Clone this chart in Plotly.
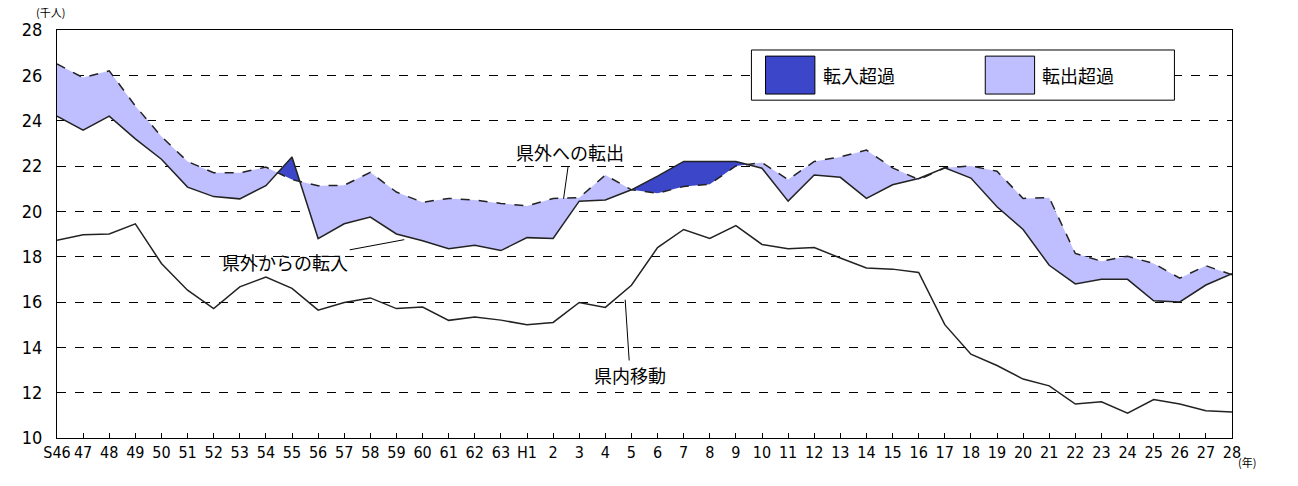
import numpy as np
import plotly.graph_objects as go

labels = ["S46","47","48","49","50","51","52","53","54","55","56","57","58","59","60","61","62","63",
          "H1","2","3","4","5","6","7","8","9","10","11","12","13","14","15","16","17","18","19","20",
          "21","22","23","24","25","26","27","28"]
outflow = [26.5,25.9,26.2,24.65,23.3,22.2,21.7,21.7,21.95,21.4,21.13,21.15,21.72,20.85,20.4,
           20.57,20.5,20.35,20.24,20.57,20.6,21.6,20.95,20.8,21.1,21.2,22.0,22.15,21.4,22.2,22.4,
           22.7,21.92,21.4,21.92,22.0,21.77,20.57,20.6,18.14,17.8,18.02,17.7,17.05,17.6,17.2]
inflow = [24.2,23.58,24.2,23.2,22.3,21.07,20.65,20.55,21.13,22.4,18.8,19.45,19.75,19.0,18.7,
          18.35,18.5,18.27,18.84,18.8,20.45,20.5,20.95,21.55,22.2,22.2,22.2,21.9,20.45,21.6,21.5,
          20.57,21.17,21.45,21.92,21.47,20.2,19.2,17.62,16.8,17.0,17.0,16.05,16.0,16.75,17.25]
intra = [18.72,18.97,19.0,19.45,17.7,16.52,15.71,16.67,17.1,16.6,15.64,15.98,16.18,15.71,15.78,
         15.19,15.34,15.2,15.0,15.1,15.98,15.76,16.74,18.4,19.2,18.8,19.37,18.54,18.35,18.4,17.94,
         17.5,17.45,17.3,15.0,13.7,13.2,12.6,12.3,11.5,11.6,11.1,11.7,11.5,11.2,11.15]

o = np.array(outflow); n = np.array(inflow); x = np.arange(len(o), dtype=float)
xs, os_, ns_ = [], [], []
for i in range(len(x)):
    xs.append(x[i]); os_.append(o[i]); ns_.append(n[i])
    if i < len(x) - 1:
        d0 = o[i] - n[i]; d1 = o[i+1] - n[i+1]
        if d0 * d1 < 0:
            t = d0 / (d0 - d1)
            xs.append(x[i] + t); v = o[i] + t * (o[i+1] - o[i])
            os_.append(v); ns_.append(v)
xs = np.array(xs); os_ = np.array(os_); ns_ = np.array(ns_)
low = np.minimum(os_, ns_)

LIGHT = "#BFBFFF"; DARK = "#3C46C8"
fig = go.Figure()
fig.add_trace(go.Scatter(x=xs, y=low, mode="lines", line=dict(width=0), hoverinfo="skip", showlegend=False))
fig.add_trace(go.Scatter(x=xs, y=os_, mode="lines", line=dict(width=0), fill="tonexty", fillcolor=LIGHT, showlegend=False))
fig.add_trace(go.Scatter(x=xs, y=low, mode="lines", line=dict(width=0), hoverinfo="skip", showlegend=False))
fig.add_trace(go.Scatter(x=xs, y=ns_, mode="lines", line=dict(width=0), fill="tonexty", fillcolor=DARK, showlegend=False))
fig.add_trace(go.Scatter(x=x, y=outflow, mode="lines", line=dict(color="#222", width=1.5, dash="dash"), showlegend=False))
fig.add_trace(go.Scatter(x=x, y=inflow, mode="lines", line=dict(color="#222", width=1.5), showlegend=False))
fig.add_trace(go.Scatter(x=x, y=intra, mode="lines", line=dict(color="#222", width=1.5), showlegend=False))

F = "Noto Sans CJK JP"
fig.update_layout(
    width=1290, height=478, paper_bgcolor="white", plot_bgcolor="white",
    margin=dict(l=49, r=66, t=22, b=48),
    font=dict(family=F, color="black", size=15),
    xaxis=dict(range=[0, 45], tickmode="array", tickvals=list(x), ticktext=labels,
               ticks="inside", ticklen=5, tickcolor="black", showgrid=False, zeroline=False,
               showline=True, linecolor="black", linewidth=1, mirror=True,
               tickfont=dict(size=16, family="DejaVu Sans Condensed, Liberation Sans Narrow, sans-serif"), tickangle=0),
    yaxis=dict(range=[10, 28], dtick=2, showgrid=True, gridcolor="black", griddash="dash", gridwidth=1,
               zeroline=False, showline=True, linecolor="black", linewidth=1, mirror=True,
               ticks="outside", ticklen=10, tickcolor="white",
               tickfont=dict(size=18, family="DejaVu Sans Condensed, sans-serif")),
)
fig.add_shape(type="rect", xref="paper", yref="paper", x0=0.591, x1=0.951, y0=0.828, y1=0.951,
              line=dict(color="black", width=1), fillcolor="white")
fig.add_shape(type="rect", xref="paper", yref="paper", x0=0.603, x1=0.645, y0=0.843, y1=0.936,
              line=dict(color="black", width=1), fillcolor=DARK)
fig.add_shape(type="rect", xref="paper", yref="paper", x0=0.79, x1=0.832, y0=0.843, y1=0.936,
              line=dict(color="black", width=1), fillcolor=LIGHT)
fig.add_annotation(xref="paper", yref="paper", x=0.65, y=0.89, yanchor="middle", text="転入超過", showarrow=False, xanchor="left", font=dict(size=18))
fig.add_annotation(xref="paper", yref="paper", x=0.837, y=0.89, yanchor="middle", text="転出超過", showarrow=False, xanchor="left", font=dict(size=18))
fig.add_annotation(x=19.4, y=20.55, ax=19.65, ay=22.6, axref="x", ayref="y", text="県外への転出",
                   showarrow=True, arrowhead=0, arrowwidth=1, arrowcolor="black", font=dict(size=18))
fig.add_annotation(x=13.3, y=18.75, ax=8.74, ay=17.77, axref="x", ayref="y", text="県外からの転入",
                   showarrow=True, arrowhead=0, arrowwidth=1, arrowcolor="black", font=dict(size=18))
fig.add_annotation(x=21.76, y=16.1, ax=21.95, ay=12.78, axref="x", ayref="y", text="県内移動",
                   showarrow=True, arrowhead=0, arrowwidth=1, arrowcolor="black", font=dict(size=18))
fig.add_annotation(xref="paper", yref="paper", x=0.0, y=1.0, yanchor="bottom", xanchor="right",
                   text="(千人)", showarrow=False, font=dict(size=11), yshift=8, xshift=10)
fig.add_annotation(xref="paper", yref="paper", x=1.003, y=-0.035, yanchor="top", xanchor="left",
                   text="(年)", showarrow=False, font=dict(size=11))
fig.write_html("out.html")
